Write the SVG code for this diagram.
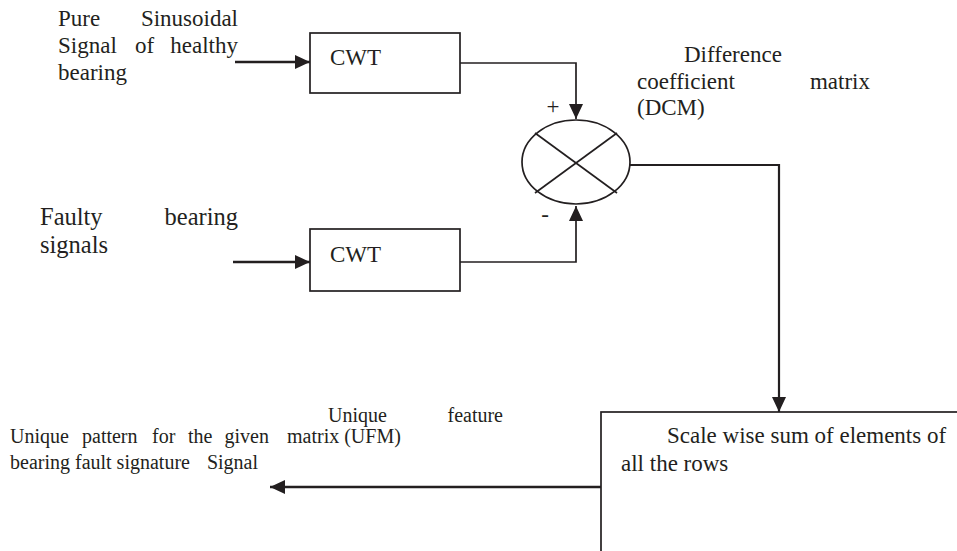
<svg xmlns="http://www.w3.org/2000/svg" width="957" height="551" viewBox="0 0 957 551">
<style>
text{font-family:'Liberation Serif','DejaVu Serif','Noto Serif',serif;font-size:23px;fill:#231f20}
.big{font-size:24.5px}
.sm{font-size:20px}
.box{fill:none;stroke:#231f20;stroke-width:1.7}
.c{fill:none;stroke:#231f20;stroke-width:1.7}
.a{fill:none;stroke:#231f20;stroke-width:2.6}
</style>
<defs>
<marker id="ah" markerUnits="userSpaceOnUse" markerWidth="15" markerHeight="14" refX="15" refY="7" orient="auto">
<path d="M0,0 L15,7 L0,14 z" fill="#231f20"/>
</marker>
</defs>
<rect width="957" height="551" fill="#fff"/>
<g font-family="Liberation Serif, DejaVu Serif, serif">
<g id="label-healthy">
<text x="58" y="26">Pure</text>
<text x="238" y="26" text-anchor="end">Sinusoidal</text>
<text x="58" y="53">Signal</text>
<text x="135" y="53">of</text>
<text x="238" y="53" text-anchor="end">healthy</text>
<text x="58" y="80">bearing</text>
</g>
<g id="label-faulty">
<text class="big" x="40" y="225">Faulty</text>
<text class="big" x="238" y="225" text-anchor="end">bearing</text>
<text class="big" x="40" y="253">signals</text>
</g>
<g id="cwt1">
<rect class="box" x="310" y="33" width="150" height="60"/>
<text x="330" y="65">CWT</text>
</g>
<g id="cwt2">
<rect class="box" x="310" y="229" width="150" height="62"/>
<text x="330" y="262">CWT</text>
</g>
<g id="diff">
<ellipse class="box" cx="576" cy="162" rx="54" ry="42"/>
<line class="c" x1="535" y1="133" x2="617" y2="193"/>
<line class="c" x1="617" y1="133" x2="535" y2="193"/>
<text x="553" y="114" text-anchor="middle">+</text>
<text x="545" y="222" text-anchor="middle">-</text>
</g>
<g id="label-dcm">
<text x="684" y="62">Difference</text>
<text x="637" y="89">coefficient</text>
<text x="870" y="89" text-anchor="end">matrix</text>
<text x="637" y="115">(DCM)</text>
</g>
<g id="sum">
<rect class="box" x="601" y="412" width="400" height="200"/>
<text x="667" y="443">Scale wise sum of elements of</text>
<text x="621" y="471">all the rows</text>
</g>
<g id="label-ufm">
<text class="sm" x="328" y="422">Unique</text>
<text class="sm" x="503" y="422" text-anchor="end">feature</text>
<text class="sm" x="287" y="443">matrix (UFM)</text>
</g>
<g id="label-output">
<text class="sm" x="10" y="443">Unique</text>
<text class="sm" x="82" y="443">pattern</text>
<text class="sm" x="152" y="443">for</text>
<text class="sm" x="188" y="443">the</text>
<text class="sm" x="269" y="443" text-anchor="end">given</text>
<text class="sm" x="10" y="469">bearing fault signature</text>
<text class="sm" x="258" y="469" text-anchor="end">Signal</text>
</g>
</g>
<g id="connectors">
<line class="a" x1="235" y1="62" x2="310" y2="62" marker-end="url(#ah)"/>
<line class="a" x1="233" y1="262" x2="310" y2="262" marker-end="url(#ah)"/>
<polyline class="c" points="460,63 576,63 576,119" marker-end="url(#ah)"/>
<polyline class="c" points="460,262 576,262 576,206" marker-end="url(#ah)"/>
<polyline class="c" points="630,165 779,165 779,412" marker-end="url(#ah)" style="stroke-width:2.2"/>
<line class="a" x1="601" y1="487" x2="270" y2="487" marker-end="url(#ah)"/>
</g>
</svg>
